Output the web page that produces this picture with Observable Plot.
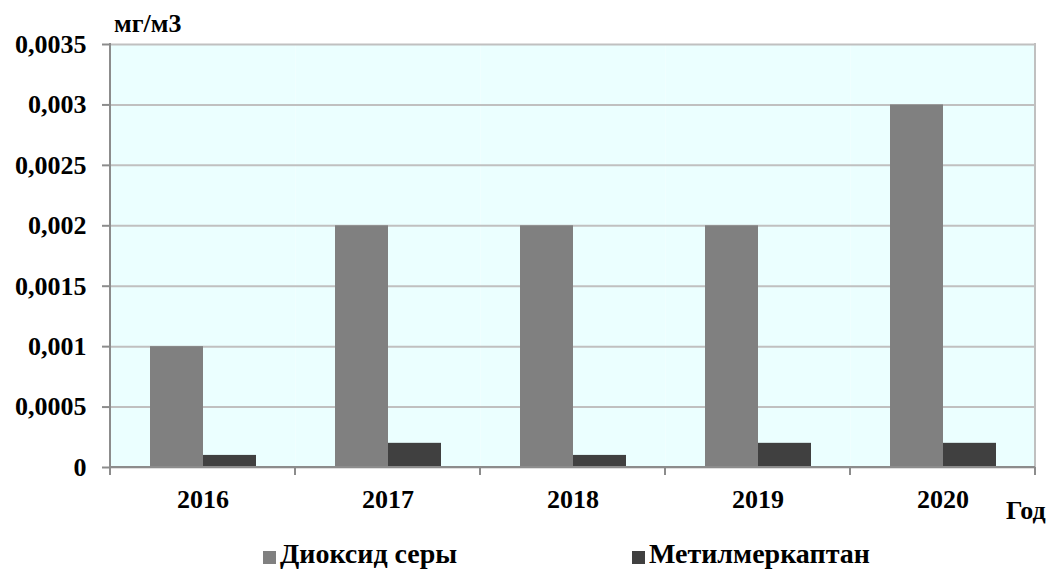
<!DOCTYPE html>
<html>
<head>
<meta charset="utf-8">
<script src="https://cdn.jsdelivr.net/npm/d3@7"></script>
<script src="https://cdn.jsdelivr.net/npm/@observablehq/plot@0.6"></script>
<style>
  html, body { margin: 0; padding: 0; background: #fff; }
  #wrap { position: relative; width: 1052px; height: 571px; font-family: 'Liberation Serif', serif; font-weight: bold; color: #000; overflow: hidden; }
  #legend { position: absolute; top: 0; left: 0; width: 1052px; height: 571px; font-size: 28px; line-height: 28px; font-family: 'Liberation Serif', serif; pointer-events: none; }
  .sw { position: absolute; top: 551px; width: 13px; height: 13px; }
  .lt { position: absolute; top: 540px; white-space: nowrap; }
</style>
</head>
<body>
<div id="wrap"></div>
<script>
const years = ["2016", "2017", "2018", "2019", "2020"];
const seriesNames = ["Диоксид серы", "Метилмеркаптан"];
const sulfurDioxide = [0.001, 0.002, 0.002, 0.002, 0.003];
const methylMercaptan = [0.0001, 0.0002, 0.0001, 0.0002, 0.0002];
const seriesColors = ["#808080", "#404040"];
const yTicks = [0, 0.0005, 0.001, 0.0015, 0.002, 0.0025, 0.003, 0.0035];
const yTickLabels = ["0", "0,0005", "0,001", "0,0015", "0,002", "0,0025", "0,003", "0,0035"];
const yUnit = "мг/м3";
const xTitle = "Год";

const data = years.flatMap((yr, i) => [
  {year: yr, series: seriesNames[0], value: sulfurDioxide[i]},
  {year: yr, series: seriesNames[1], value: methylMercaptan[i]}
]);

const chart = Plot.plot({
  width: 1052,
  height: 525,
  marginLeft: 108,
  marginRight: 16,
  marginTop: 44,
  marginBottom: 58,
  style: {fontFamily: "Liberation Serif, serif", fontWeight: "bold", fontSize: "26px", color: "#000", background: "#fff", overflow: "visible"},
  facet: {data, x: "year"},
  fx: {domain: years, paddingInner: 0, paddingOuter: 0, axis: "bottom", tickSize: 0, tickPadding: 22, label: null},
  x: {domain: seriesNames, paddingInner: 0, paddingOuter: 0.72, axis: null},
  y: {domain: [0, 0.0035], ticks: yTicks, tickFormat: d => yTickLabels[yTicks.findIndex(t => Math.abs(t - d) < 1e-9)], tickSize: 8, tickPadding: 16, label: null},
  color: {domain: seriesNames, range: seriesColors},
  marks: [
    Plot.frame({fill: "#ebffff", stroke: null}),
    Plot.ruleY(yTicks, {stroke: "#c0c0c0", strokeWidth: 2}),
    Plot.barY(data, {x: "series", y: "value", fill: "series"})
  ]
});

document.getElementById("wrap").appendChild(chart);

const svg = d3.select(chart);
svg.attr("font-family", "Liberation Serif, serif").attr("font-weight", "bold");
svg.selectAll("g[aria-label^='y-axis'] line, g[aria-label^='y-axis'] path").attr("stroke", "#8c8c8c").attr("stroke-width", 2);
svg.selectAll("g[aria-label^='y-axis'] .domain").remove();

const fx = chart.scale("fx");
const ys = chart.scale("y");
const bw = fx.bandwidth;
const x0 = fx.apply(years[0]);
const x1 = fx.apply(years[years.length - 1]) + bw;
const yb = ys.apply(0);
const yt = ys.apply(yTicks[yTicks.length - 1]);

const deco = svg.append("g").attr("aria-label", "frame-lines");
deco.append("line").attr("x1", x1).attr("x2", x1).attr("y1", yt - 1).attr("y2", yb).attr("stroke", "#c0c0c0").attr("stroke-width", 2);
deco.append("line").attr("x1", x0).attr("x2", x1).attr("y1", yb).attr("y2", yb).attr("stroke", "#8c8c8c").attr("stroke-width", 2);
const bounds = years.map(y => fx.apply(y)).concat([x1]);
bounds.forEach(bx => {
  deco.append("line").attr("x1", bx).attr("x2", bx).attr("y1", yb).attr("y2", yb + 8).attr("stroke", "#8c8c8c").attr("stroke-width", 2);
});
deco.append("line").attr("x1", x0).attr("x2", x0).attr("y1", yt - 1).attr("y2", yb + 8).attr("stroke", "#8c8c8c").attr("stroke-width", 2);

svg.append("text").text(yUnit).attr("x", x0 + 4).attr("y", yt - 12).attr("text-anchor", "start")
  .attr("font-size", 26).attr("font-family", "Liberation Serif, serif").attr("font-weight", "bold").attr("fill", "#000");
svg.append("text").text(xTitle).attr("x", x1 - 29).attr("y", yb + 52).attr("text-anchor", "start")
  .attr("font-size", 26).attr("font-family", "Liberation Serif, serif").attr("font-weight", "bold").attr("fill", "#000");

const legend = d3.select("#wrap").append("div").attr("id", "legend");
const swatchLeft = [263, 632];
const textLeft = [280, 649];
seriesNames.forEach((name, i) => {
  legend.append("div").attr("class", "sw").style("left", swatchLeft[i] + "px").style("background", seriesColors[i]);
  legend.append("span").attr("class", "lt").style("left", textLeft[i] + "px").text(name);
});
</script>
</body>
</html>
